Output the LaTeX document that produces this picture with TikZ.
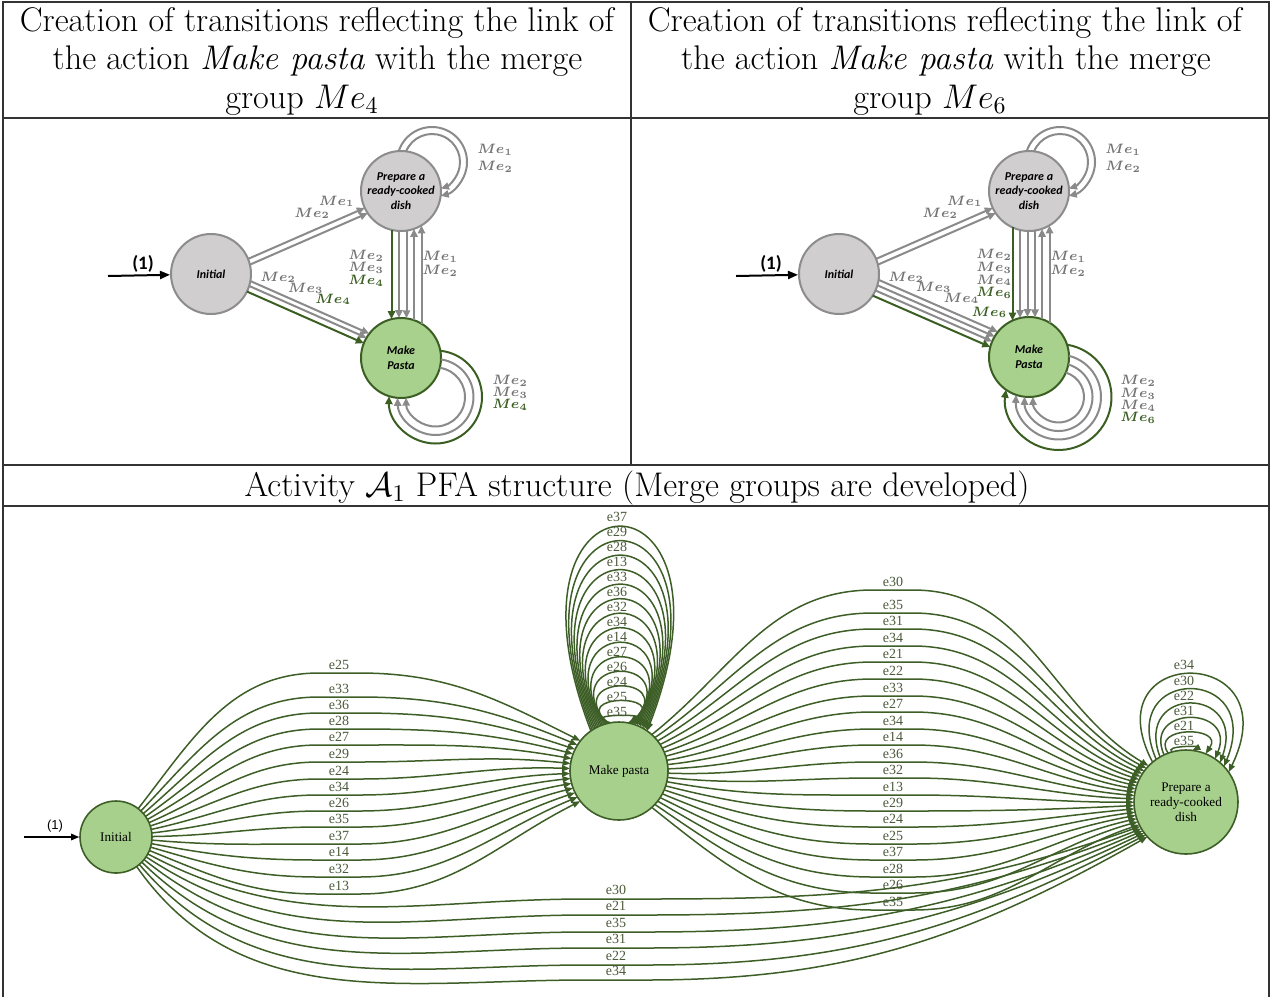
\RequirePackage{fix-cm}
\documentclass[tikz,border=0pt]{standalone}
\usepackage{fontspec}
\newfontfamily\carl{Carlito}
\newfontfamily\tms{Liberation Serif}
\newfontfamily\lsans{Liberation Sans}
\usetikzlibrary{arrows.meta,calc}
\definecolor{tgfill}{HTML}{D0CECE}
\definecolor{tgdraw}{HTML}{8C8C8C}
\definecolor{tgedge}{HTML}{8A8A8A}
\definecolor{tglab}{HTML}{747474}
\definecolor{tpfill}{HTML}{A9D18E}
\definecolor{tgreen}{HTML}{3B5E22}
\definecolor{bfill}{HTML}{A8D08D}
\definecolor{bgreen}{HTML}{3D5F27}
\definecolor{blabc}{HTML}{4A5A3A}
\definecolor{rulec}{HTML}{333333}
% parallel line: style, from, to, offset (pt), angle at from, angle at to
\newcommand{\pline}[6]{%
  \pgfmathsetmacro\pls{sqrt(400-(#4)*(#4))}%
  \draw[#1, shorten <=\pls pt, shorten >=\pls pt] ($(#2)!#4pt!#5:(#3)$) -- ($(#3)!#4pt!#6:(#2)$);}
\newcommand{\gm}[1]{\textcolor{tgreen}{$#1$}}
\newcommand{\stk}[2]{\vbox{\baselineskip=#1\relax\lineskiplimit=-20pt\relax\lineskip=0pt\relax
  \halign{\hfil##\hfil\cr#2\crcr}}}
\begin{document}
\begin{tikzpicture}[x=0.5pt,y=0.5pt,
  hdr/.style={font=\fontsize{17.1}{19.25}\selectfont, inner sep=0pt, anchor=base},
  tnode/.style={circle, minimum size=40pt, inner sep=0pt, line width=1pt, align=center,
    font=\carl\bfseries\itshape\fontsize{6}{7.2}\selectfont},
  tgnode/.style={tnode, fill=tgfill, draw=tgdraw},
  tpnode/.style={tnode, fill=tpfill, draw=tgreen},
  tgl/.style={line width=1pt, draw=tgedge, -{Triangle[length=4pt,width=3.6pt]}},
  tgr/.style={line width=1pt, draw=tgreen, -{Triangle[length=4pt,width=3.6pt]}},
  mel/.style={font=\boldmath\fontsize{6.8}{8}\selectfont, text=tglab, inner sep=0pt},
  startarr/.style={line width=1pt, draw=black, -{Triangle[length=5pt,width=4pt]}},
  onelab/.style={font=\carl\bfseries\fontsize{9.5}{10}\selectfont, inner sep=0pt},
  bnode/.style={circle, fill=bfill, draw=bgreen, line width=0.8pt, inner sep=0pt, align=center,
    font=\tms\fontsize{6.6}{7.5}\selectfont},
  bedge/.style={draw=bgreen, line width=0.75pt, -{Triangle[length=4pt,width=3pt]}},
  blab/.style={font=\tms\fontsize{7}{8}\selectfont, text=blabc, inner sep=0pt}
]
\useasboundingbox (0,0) rectangle (1279,-997);
% ---------- table ----------
\draw[rulec, line width=0.75pt] (3,-997) -- (3,-2) -- (1269,-2) -- (1269,-997);
\draw[rulec, line width=0.75pt] (3,-118) -- (1269,-118);
\draw[rulec, line width=0.75pt] (3,-465) -- (1269,-465);
\draw[rulec, line width=0.75pt] (3,-506) -- (1269,-506);
\draw[rulec, line width=0.75pt] (631,-2) -- (631,-465);
% ---------- headers ----------
\node[hdr] (h1a) at (317,-31) {Creation of transitions reflecting the link of};
\node[hdr] (h1b) at (317.5,-69.5) {the action \textit{Make pasta} with the merge};
\node[hdr] (h1c) at (302,-108) {group $Me_4$};
\node[hdr] (h2a) at (945,-31) {Creation of transitions reflecting the link of};
\node[hdr] (h2b) at (946,-69.5) {the action \textit{Make pasta} with the merge};
\node[hdr] (h2c) at (930,-108) {group $Me_6$};
\node[hdr] (h3) at (637,-496) {Activity $\mathcal{A}_1$ PFA structure (Merge groups are developed)};
% ---------- left top panel ----------
\node[tgnode] (I1) at (211,-274) {Initial};
\node[tgnode] (P1) at (401,-191) {Prepare a\\ready-cooked\\dish};
\node[tpnode] (M1) at (401,-358) {Make\\Pasta};
\coordinate (s1) at (108,-276);
\draw[startarr] (s1) -- (I1);
\node[onelab] (o1) at (143,-264) {(1)};
\pline{tgl}{I1}{P1}{0.5}{-90}{90}
\pline{tgl}{I1}{P1}{3.5}{-90}{90}
\pline{tgl}{I1}{M1}{4.75}{90}{-90}
\pline{tgl}{I1}{M1}{2.25}{90}{-90}
\pline{tgr}{I1}{M1}{0.75}{-90}{90}
\pline{tgr}{P1}{M1}{4.75}{-90}{90}
\pline{tgl}{P1}{M1}{1}{-90}{90}
\pline{tgl}{P1}{M1}{2.75}{90}{-90}
\pline{tgl}{M1}{P1}{6.5}{-90}{90}
\pline{tgl}{M1}{P1}{10.25}{-90}{90}
\coordinate (cP1) at (432,-162);
\draw[tgl] ($(cP1)+(161.8:17.5pt)$) arc[start angle=161.8, end angle=-75.6, radius=17.5pt];
\draw[tgl] ($(cP1)+(157.6:14pt)$) arc[start angle=157.6, end angle=-71.4, radius=14pt];
\coordinate (cM1) at (435.5,-397);
\draw[tgr] ($(cM1)+(84:23.25pt)$) arc[start angle=84, end angle=-181, radius=23.25pt];
\draw[tgl] ($(cM1)+(81.7:19pt)$) arc[start angle=81.7, end angle=-178.7, radius=19pt];
\draw[tgl] ($(cM1)+(81.7:14.75pt)$) arc[start angle=81.7, end angle=-178.7, radius=14.75pt];
\node[mel, anchor=base west] (l1a) at (294,-217) {$Me_2$\hspace{-5.5pt}\raisebox{6pt}{$Me_1$}};
\node[mel, anchor=base west] (l1b) at (260,-281) {$Me_2$\hspace{-4pt}\raisebox{-5.5pt}{$Me_3$}\hspace{-4pt}\raisebox{-11pt}{\gm{Me_4}}};
\node[mel] (l1c) at (366,-268) {\stk{6.3pt}{$Me_2$\cr$Me_3$\cr\gm{Me_4}}};
\node[mel] (l1d) at (440,-264) {\stk{7pt}{$Me_1$\cr$Me_2$}};
\node[mel] (l1e) at (495,-158.5) {\stk{8.5pt}{$Me_1$\cr$Me_2$}};
\node[mel] (l1f) at (510,-393) {\stk{6pt}{$Me_2$\cr$Me_3$\cr\gm{Me_4}}};
% ---------- right top panel ----------
\node[tgnode] (I2) at (839,-274) {Initial};
\node[tgnode] (P2) at (1029,-191) {Prepare a\\ready-cooked\\dish};
\node[tpnode] (M2) at (1029,-357) {Make\\Pasta};
\coordinate (s2) at (736,-276);
\draw[startarr] (s2) -- (I2);
\node[onelab] (o2) at (771,-264) {(1)};
\pline{tgl}{I2}{P2}{0.5}{-90}{90}
\pline{tgl}{I2}{P2}{3.5}{-90}{90}
\pline{tgl}{I2}{M2}{5.25}{90}{-90}
\pline{tgl}{I2}{M2}{2.5}{90}{-90}
\pline{tgl}{I2}{M2}{0.25}{-90}{90}
\pline{tgr}{I2}{M2}{3.15}{-90}{90}
\pline{tgr}{P2}{M2}{8.25}{-90}{90}
\pline{tgl}{P2}{M2}{4.5}{-90}{90}
\pline{tgl}{P2}{M2}{0.75}{-90}{90}
\pline{tgl}{P2}{M2}{3}{90}{-90}
\pline{tgl}{M2}{P2}{6.5}{-90}{90}
\pline{tgl}{M2}{P2}{10.25}{-90}{90}
\coordinate (cP2) at (1060,-162);
\draw[tgl] ($(cP2)+(161.8:17.5pt)$) arc[start angle=161.8, end angle=-75.6, radius=17.5pt];
\draw[tgl] ($(cP2)+(157.6:14pt)$) arc[start angle=157.6, end angle=-71.4, radius=14pt];
\coordinate (cM2) at (1058.5,-397);
\draw[tgr] ($(cM2)+(80.7:26.5pt)$) arc[start angle=80.7, end angle=-187.9, radius=26.5pt];
\draw[tgl] ($(cM2)+(75.7:21.25pt)$) arc[start angle=75.7, end angle=-182.9, radius=21.25pt];
\draw[tgl] ($(cM2)+(73.2:17pt)$) arc[start angle=73.2, end angle=-180.4, radius=17pt];
\draw[tgl] ($(cM2)+(73.3:12.75pt)$) arc[start angle=73.3, end angle=-180.5, radius=12.75pt];
\node[mel, anchor=base west] (l2a) at (922,-217) {$Me_2$\hspace{-5.5pt}\raisebox{6pt}{$Me_1$}};
\node[mel, anchor=base west] (l2b) at (888,-281) {$Me_2$\hspace{-4pt}\raisebox{-5pt}{$Me_3$}\hspace{-3.8pt}\raisebox{-10.5pt}{$Me_4$}\hspace{-3.8pt}\raisebox{-17.5pt}{\gm{Me_6}}};
\node[mel] (l2c) at (994,-274) {\stk{6.3pt}{$Me_2$\cr$Me_3$\cr$Me_4$\cr\gm{Me_6}}};
\node[mel] (l2d) at (1068,-264) {\stk{7pt}{$Me_1$\cr$Me_2$}};
\node[mel] (l2e) at (1123,-158.5) {\stk{8.5pt}{$Me_1$\cr$Me_2$}};
\node[mel] (l2f) at (1138,-399.5) {\stk{6.1pt}{$Me_2$\cr$Me_3$\cr$Me_4$\cr\gm{Me_6}}};
% ---------- bottom panel ----------
\node[bnode, minimum size=36pt] (BI) at (116,-837) {Initial};
\node[bnode, minimum size=49pt] (BM) at (619,-771) {Make pasta};
\node[bnode, minimum size=52pt] (BP) at (1186,-802) {Prepare a\\ready-cooked\\dish};
\coordinate (s3) at (24,-837);
\draw[line width=0.7pt, -{Triangle[length=4pt,width=3.2pt]}] (s3) -- (BI);
\node[font=\lsans\fontsize{6.5}{7}\selectfont, inner sep=0pt] (o3) at (55,-826) {(1)};
% Initial -> Make pasta
\foreach \lab/\ly [count=\i from 0] in {e25/665,e33/689,e36/705,e28/721,e27/737,e29/754,e24/771,e34/787,e26/803,e35/819,e37/836,e14/852,e32/869,e13/886}{
  \pgfmathsetmacro\angA{52-74*\i/13}
  \pgfmathsetmacro\angB{142+76*\i/13}
  \pgfmathsetmacro\angIn{180+0.7*(\angB-180)}
  \pgfmathsetmacro\yy{-(\ly+8)}
  \draw[bedge] ($(BI)+(\angA:18pt)$) to[out=\angA,in=180] (319,\yy) -- (359,\yy) to[out=0,in=\angIn] ($(BM)+(\angB:24.5pt)$);
}
% Make pasta -> Prepare
\foreach \lab/\ly [count=\i from 0] in {e30/582,e35/605,e31/621,e34/638,e21/654,e22/671,e33/688,e27/704,e34/721,e14/737,e36/754,e32/770,e13/787,e29/803,e24/819,e25/836,e37/852,e28/869,e26/885,e35/902}{
  \pgfmathsetmacro\angA{48-96*\i/19}
  \pgfmathsetmacro\angOut{0.8*\angA}
  \pgfmathsetmacro\angB{136+70*\i/19}
  \pgfmathsetmacro\angIn{180+0.7*(\angB-180)}
  \pgfmathsetmacro\yy{-(\ly+8)}
  \draw[bedge] ($(BM)+(\angA:24.5pt)$) to[out=\angOut,in=180] (873,\yy) -- (913,\yy) to[out=0,in=\angIn] ($(BP)+(\angB:26pt)$);
}
% Initial -> Prepare
\foreach \lab/\ly [count=\i from 0] in {e30/890,e21/906,e35/923,e31/939,e22/956,e34/971}{
  \pgfmathsetmacro\angA{-28-27*\i/5}
  \pgfmathsetmacro\angB{208+14*\i/5}
  \pgfmathsetmacro\angIn{180+0.7*(\angB-180)}
  \pgfmathsetmacro\yy{-(\ly+9)}
  \draw[bedge] ($(BI)+(\angA:18pt)$) to[out=\angA,in=180] (586,\yy) -- (646,\yy) to[out=0,in=\angIn] ($(BP)+(\angB:26pt)$);
}
% Make pasta self loops
\foreach \lab/\ly [count=\i from 0] in {e37/517,e29/532,e28/547,e13/562,e33/577,e36/592,e32/607,e34/622,e14/637,e27/652,e26/667,e24/682,e25/697,e35/712}{
  \pgfmathsetmacro\tf{\i/13}
  \pgfmathsetmacro\aL{125-25*\tf}
  \pgfmathsetmacro\aR{55+25*\tf}
  \pgfmathsetmacro\xl{619+49*cos(\aL)}
  \pgfmathsetmacro\yl{771-49*sin(\aL)}
  \pgfmathsetmacro\xr{619+49*cos(\aR)}
  \pgfmathsetmacro\yr{771-49*sin(\aR)}
  \pgfmathsetmacro\AA{\ly+10-0.5*\i}
  \pgfmathsetmacro\ww{52-2.7*\i}
  \pgfmathsetmacro\hh{(\xr-\xl)/2}
  \pgfmathsetmacro\dd{max(0,(\ww-0.772*\hh)/0.289)}
  \pgfmathsetmacro\yc{(\AA-0.125*(\yl+\yr))/0.75}
  \draw[bedge] ($(BM)+(\aL:24.5pt)$) .. controls (\xl-\dd,-\yc) and (\xr+\dd,-\yc) .. ($(BM)+(\aR:24.5pt)$);
}
% Prepare self loops
\foreach \lab/\ly/\aL/\aR/\ww [count=\i from 0] in {e34/665/130/35/47.5,e30/681/125/43/38,e22/696/120/49/31,e31/711/115/56/26,e21/726/110/68/20,e35/741/105/83/10.5}{
  \pgfmathsetmacro\xl{1186+52*cos(\aL)}
  \pgfmathsetmacro\yl{802-52*sin(\aL)}
  \pgfmathsetmacro\xr{1186+52*cos(\aR)}
  \pgfmathsetmacro\yr{802-52*sin(\aR)}
  \pgfmathsetmacro\AA{\ly+9-0.6*\i}
  \pgfmathsetmacro\hh{(\xr-\xl)/2}
  \pgfmathsetmacro\dd{max(0,(\ww-0.772*\hh)/0.289)}
  \pgfmathsetmacro\yc{(\AA-0.125*(\yl+\yr))/0.75}
  \draw[bedge] ($(BP)+(\aL:26pt)$) .. controls (\xl-\dd,-\yc) and (\xr+\dd,-\yc) .. ($(BP)+(\aR:26pt)$);
}
% labels
\foreach \lab/\ly in {e25/665,e33/689,e36/705,e28/721,e27/737,e29/754,e24/771,e34/787,e26/803,e35/819,e37/836,e14/852,e32/869,e13/886}
  \node[blab] at (339,-\ly) {\lab};
\foreach \lab/\ly in {e30/582,e35/605,e31/621,e34/638,e21/654,e22/671,e33/688,e27/704,e34/721,e14/737,e36/754,e32/770,e13/787,e29/803,e24/819,e25/836,e37/852,e28/869,e26/885,e35/902}
  \node[blab] at (893,-\ly) {\lab};
\foreach \lab/\ly in {e30/890,e21/906,e35/923,e31/939,e22/956,e34/971}
  \node[blab] at (616,-\ly) {\lab};
\foreach \lab/\ly in {e37/517,e29/532,e28/547,e13/562,e33/577,e36/592,e32/607,e34/622,e14/637,e27/652,e26/667,e24/682,e25/697,e35/712}
  \node[blab] at (617,-\ly) {\lab};
\foreach \lab/\ly in {e34/665,e30/681,e22/696,e31/711,e21/726,e35/741}
  \node[blab] at (1184,-\ly) {\lab};
\end{tikzpicture}
\end{document}
